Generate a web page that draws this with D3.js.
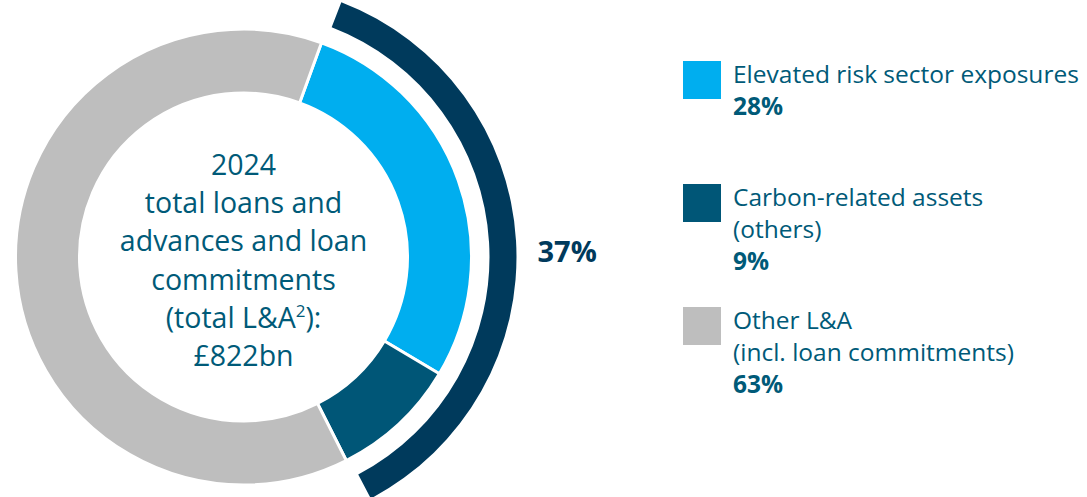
<!DOCTYPE html>
<html>
<head>
<meta charset="utf-8">
<script src="https://cdn.jsdelivr.net/npm/d3@7"></script>
<style>
  body { margin: 0; background: #fff; }
  svg { display: block; }
  text { font-family: "Open Sans", "Noto Sans", sans-serif; fill: #005a78; }
</style>
</head>
<body>
<svg id="chart"></svg>
<script>
// data
var categories = ["Elevated risk sector exposures", "Carbon-related assets", "Other L&A"];
var subLabels = [[], ["(others)"], ["(incl. loan commitments)"]];
var values = [28, 9, 63];
var colors = ["#00aeef", "#005677", "#bebebe"];
var highlightValue = 37; // elevated + carbon-related
var centerLines = ["2024", "total loans and", "advances and loan", "commitments", "(total L&A", "£822bn"];

var width = 1087, height = 497;
var cx = 243.5, cy = 257;
var innerR = 164, outerR = 228;
var ringInner = 246, ringOuter = 273;
var start = 20 * Math.PI / 180;

var svg = d3.select("#chart").attr("width", width).attr("height", height);
var g = svg.append("g").attr("transform", "translate(" + cx + "," + cy + ")");

var pie = d3.pie().sort(null).startAngle(start).endAngle(start + 2 * Math.PI);
var arcs = pie(values);

var arc = d3.arc().innerRadius(innerR).outerRadius(outerR);

g.selectAll("path.slice")
    .data(arcs)
    .enter().append("path")
    .attr("class", "slice")
    .attr("d", arc)
    .style("fill", function(d, i) { return colors[i]; })
    .style("stroke", "#fff")
    .style("stroke-width", 3);

// outer highlight ring over the first two slices
var pad = 1 * Math.PI / 180;
var hlEnd = start + 2 * Math.PI * highlightValue / d3.sum(values);
var ring = d3.arc().innerRadius(ringInner).outerRadius(ringOuter)
    .startAngle(start + pad).endAngle(hlEnd - pad);
g.append("path").attr("d", ring()).style("fill", "#003a5c");

g.append("text")
    .attr("x", ringOuter + 21)
    .attr("y", 5)
    .style("font-size", "29px")
    .style("font-weight", "700")
    .style("fill", "#003a5c")
    .style("text-anchor", "start")
    .text(highlightValue + "%");

// centre text
var lineH = 38.2;
var ct = g.append("text").style("text-anchor", "middle").style("font-size", "28.5px");
centerLines.forEach(function(t, i) {
    ct.append("tspan").attr("x", 0).attr("y", -82 + i * lineH).text(t);
    if (i == 4) {
        ct.append("tspan").attr("dy", -11).style("font-size", "17px").text("2");
        ct.append("tspan").attr("dy", 11).text("):");
    }
});

// legend
var legendX = 683, textX = 733;
var legendY = [61, 184, 307];
var leg = svg.append("g");
categories.forEach(function(c, i) {
    leg.append("rect")
        .attr("x", legendX).attr("y", legendY[i])
        .attr("width", 38).attr("height", 38)
        .style("fill", colors[i]);
    var lines = [c].concat(subLabels[i]);
    var base = legendY[i] + 22;
    lines.forEach(function(l, j) {
        leg.append("text")
            .attr("x", textX).attr("y", base + j * 31.5)
            .style("font-size", "24.5px")
            .text(l);
    });
    leg.append("text")
        .attr("x", textX).attr("y", base + lines.length * 31.5 + 0.5)
        .style("font-size", "24.5px")
        .style("font-weight", "700")
        .text(values[i] + "%");
});
</script>
</body>
</html>
